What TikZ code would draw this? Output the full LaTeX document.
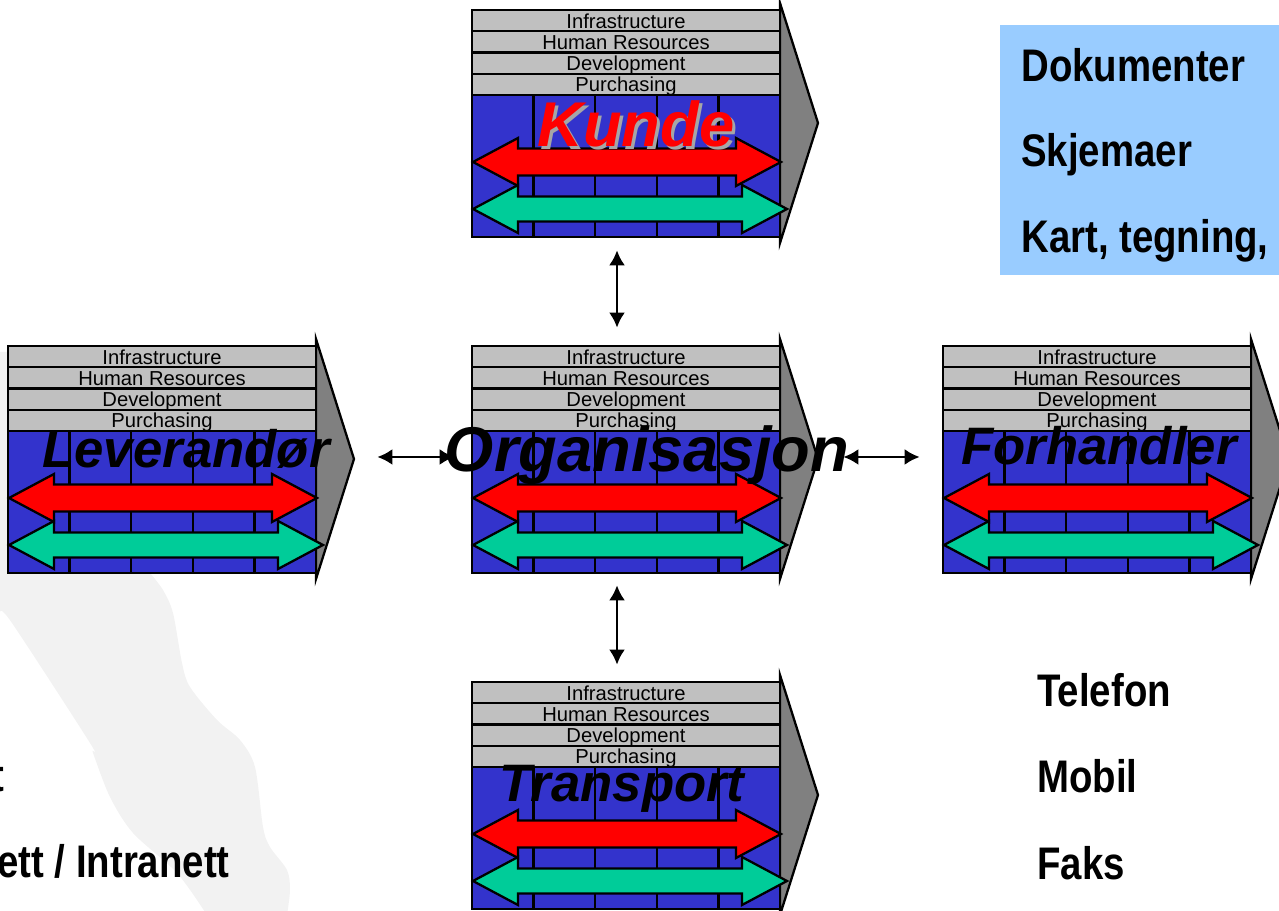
\documentclass[tikz,border=0pt]{standalone}
\usepackage{fontspec}
\setmainfont{Liberation Sans}
\newfontfamily\narrowfont[FakeStretch=0.84]{Liberation Sans}
\usetikzlibrary{arrows.meta,positioning}
\definecolor{vcblue}{RGB}{51,51,204}
\definecolor{vcgray}{RGB}{192,192,192}
\definecolor{vcdark}{RGB}{128,128,128}
\definecolor{vcred}{RGB}{255,0,0}
\definecolor{vcgreen}{RGB}{0,204,153}
\definecolor{infoblue}{RGB}{153,204,255}
\definecolor{blobgray}{RGB}{242,242,242}
\def\unitpx{0.02cm}
\tikzstyle{outline} = [draw=black, line width=1.3pt]
\tikzstyle{barlabel} = [anchor=base, inner sep=0pt, font=\fontsize{11.5pt}{12pt}\selectfont]
\tikzstyle{bigtitle} = [anchor=base, inner sep=0pt, font=\fontsize{36pt}{40pt}\selectfont\bfseries\itshape]
\tikzstyle{chaintitle} = [anchor=base, inner sep=0pt, font=\fontsize{30pt}{34pt}\selectfont\bfseries\itshape]
\tikzstyle{medialabel} = [anchor=base west, inner sep=0pt, font=\fontsize{26pt}{30pt}\narrowfont\bfseries]
\tikzstyle{link} = [line width=1.5pt, {Latex[length=0.3cm,width=0.32cm]}-{Latex[length=0.3cm,width=0.32cm]}]
\tikzset{
  valuechain/.pic={
    % chevron behind the chain
    \filldraw[outline, fill=vcdark] (308,-7) -- (346,113) -- (308,233) -- cycle;
    % support activities
    \foreach \lbl [count=\i] in {Infrastructure,Human Resources,Development,Purchasing}{
      \filldraw[outline, fill=vcgray] (0,{(\i-1)*21.25}) rectangle (308,{\i*21.25});
      \node[barlabel] at (154,{\i*21.25-3}) {\lbl};
    }
    % primary activities
    \filldraw[outline, fill=vcblue] (0,85) rectangle (308,227);
    \foreach \k in {1,...,4}
      \draw[outline] ({\k*61.6},85) -- ({\k*61.6},227);
    \filldraw[outline, fill=vcred] (1,152) -- (46,128) -- (46,138.6) -- (264,138.6) -- (264,128) -- (309,152)
      -- (264,176) -- (264,165.4) -- (46,165.4) -- (46,176) -- cycle;
    \filldraw[outline, fill=vcgreen] (1,199) -- (46,175) -- (46,186.5) -- (270,186.5) -- (270,175) -- (315,199)
      -- (270,223) -- (270,211.5) -- (46,211.5) -- (46,223) -- cycle;
    \node[inner sep=0pt, minimum width=308*\unitpx, minimum height=227*\unitpx] (-box) at (154,113.5) {};
  }
}

\begin{document}
\begin{tikzpicture}[x=0.02cm, y=-0.02cm]
\useasboundingbox (0,0) rectangle (1279,911);
\clip (0,0) rectangle (1279,911);
% background shape
\fill[blobgray] (-10,352) -- (140,352)
  -- plot[smooth] coordinates {(150,573) (163,590) (173,613) (182,663) (190,687) (217,720) (240,740) (255,767) (263,827) (270,847) (287,870) (290,890) (287,915)}
  -- plot[smooth] coordinates {(207,915) (177,873) (133,833) (110,797) (93,753) (90,743) (12,623) (0,612)}
  -- (-10,612) -- cycle;

% media box
\node[fill=infoblue, inner sep=0pt, minimum width=290*\unitpx, minimum height=250*\unitpx, anchor=north west] (docbox) at (1000,25) {};
\node[medialabel] (dok) at (1021,82) {Dokumenter};
\node[medialabel] (skj) at (1021,167) {Skjemaer};
\node[medialabel] (kart) at (1021,253) {Kart, tegning,};

% value chains
\pic (kunde) at (472,10) {valuechain};
\pic (lev) at (8,346) {valuechain};
\pic (org) at (472,346) {valuechain};
\pic (forh) at (943,346) {valuechain};
\pic (trans) at (472,682) {valuechain};

% links between partners
\draw[link, shorten <=13*\unitpx, shorten >=18*\unitpx] ([xshift=-9*\unitpx]kunde-box.south) -- ([xshift=-9*\unitpx]org-box.north);
\draw[link, shorten <=12*\unitpx, shorten >=17*\unitpx] ([xshift=-9*\unitpx]org-box.south) -- ([xshift=-9*\unitpx]trans-box.north);
\draw[link, shorten <=61*\unitpx, shorten >=17*\unitpx] ([yshift=2.5*\unitpx]lev-box.east) -- ([yshift=2.5*\unitpx]org-box.west);
\draw[link, shorten <=63*\unitpx, shorten >=23*\unitpx] ([yshift=2.5*\unitpx]org-box.east) -- ([yshift=2.5*\unitpx]forh-box.west);

% titles
\node[bigtitle, text=gray!70] (kundeshadow) at (639,150) {Kunde};
\node[bigtitle, text=vcred] (kundetitle) at (636,147) {Kunde};
\node[bigtitle] (orgtitle) at (647,472) {Organisasjon};
\node[chaintitle] (levtitle) at (186,468) {Leverandør};
\node[chaintitle] (forhtitle) at (1099,465) {Forhandler};
\node[chaintitle] (transtitle) at (622,802) {Transport};

% channels
\node[medialabel] (tlf) at (1037,707) {Telefon};
\node[medialabel] (mob) at (1037,793) {Mobil};
\node[medialabel] (faks) at (1037,880) {Faks};
\node[medialabel, anchor=base east] (epost) at (5,792) {t};
\node[medialabel, anchor=base east] (nett) at (230,878) {ett / Intranett};
\end{tikzpicture}
\end{document}
